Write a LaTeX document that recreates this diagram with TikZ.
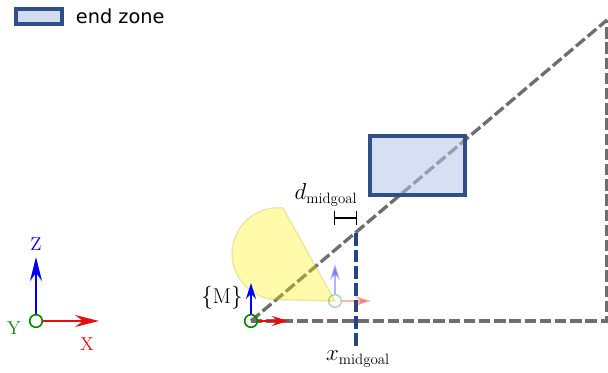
\documentclass[tikz,border=0pt]{standalone}
\usepackage{fontspec}
\newfontfamily\legendfont{DejaVu Sans}
\usetikzlibrary{arrows.meta, positioning}
\definecolor{zonefill}{RGB}{180,198,231}
\definecolor{zoneedge}{RGB}{47,79,134}
\definecolor{midblue}{RGB}{38,70,130}
\definecolor{guidegray}{RGB}{110,110,110}
\definecolor{axisred}{RGB}{225,15,15}
\definecolor{axisgreen}{RGB}{0,135,0}
\definecolor{axisblue}{RGB}{0,0,250}

\tikzset{
  zone/.style = {draw=zoneedge, line width=2.4pt, fill=zonefill, fill opacity=0.55, inner sep=0pt},
  guide/.style = {guidegray, line width=2.5pt, dash pattern=on 8.6pt off 2.8pt},
  midline/.style = {midblue, line width=2.5pt, dash pattern=on 9.5pt off 3pt},
  origin/.style = {circle, draw=axisgreen, line width=1.2pt, minimum size=9.5pt, inner sep=0pt},
  zaxis/.style = {axisblue, line width=1.5pt, -{Stealth[length=18pt, width=9pt, inset=6pt]}},
  xaxis/.style = {axisred, line width=1.5pt, -{Stealth[length=18pt, width=9pt, inset=6pt]}},
  zsmall/.style = {zaxis, -{Stealth[length=12pt, width=7.5pt, inset=4pt]}},
  xsmall/.style = {xaxis, -{Stealth[length=12pt, width=7.5pt, inset=4pt]}},
  axlabel/.style = {inner sep=0pt, font=\fontsize{14}{16}\selectfont},
  mathlabel/.style = {inner sep=0pt, font=\fontsize{16}{18}\selectfont}
}

\begin{document}
\begin{tikzpicture}[x=0.75pt, y=-0.75pt]
  \useasboundingbox (0,0) rectangle (608,373);

  % legend
  \node[zone, fill opacity=1, fill=zonefill!60, minimum width=34.5pt, minimum height=11.25pt] (key) at (39,16.5) {};
  \node[right=9pt of key, inner sep=0pt, font=\legendfont\fontsize{14.5}{16}\selectfont] (keytext) {end zone};

  % guide lines
  \coordinate (M) at (251,321);
  \coordinate (corner) at (607,321);
  \coordinate (far) at (607,20);
  \coordinate (midtop) at (356,233);
  \coordinate (midbot) at (356,346);
  \draw[guide] (M) -- (corner) -- (far);
  \draw[guide] (M) -- (far);
  \draw[midline] (midtop) -- (midbot);

  % end zone
  \node[zone, minimum width=71.25pt, minimum height=44.25pt] (endzone) at (417.5,165.5) {};

  % reach area
  \coordinate (P) at (335,301);
  \coordinate (reachtop) at (283,208);
  \fill[yellow, fill opacity=0.33, draw=yellow!70!black, draw opacity=0.3, line width=1pt]
    (P) -- (reachtop) arc[start angle=-83.8, end angle=-270, radius=46] -- cycle;

  % distance to goal line
  \coordinate (dimL) at (334,218);
  \coordinate (dimR) at (357,218);
  \draw[line width=1.1pt, {Bar[width=10pt]}-{Bar[width=10pt]}] (dimL) -- (dimR);
  \node[mathlabel] (dlabel) at (326,195) {$d_{\mathrm{midgoal}}$};
  \node[mathlabel] (xlabel) at (358,359) {$x_{\mathrm{midgoal}}$};

  % world frame
  \node[origin] (W) at (36,321) {};
  \coordinate (Wz) at (36,257);
  \coordinate (Wx) at (99,321);
  \draw[zaxis] (W) -- (Wz);
  \draw[xaxis] (W) -- (Wx);
  \node[axlabel, axisblue] (Zlab) at (36,244) {Z};
  \node[axlabel, axisred] (Xlab) at (87,344) {X};
  \node[axlabel, axisgreen] (Ylab) at (14,328) {Y};

  % frame {M}
  \node[origin] (Mo) at (M) {};
  \coordinate (Mz) at (251,283);
  \coordinate (Mx) at (288,321);
  \draw[zsmall] (Mo) -- (Mz);
  \draw[xsmall] (Mo) -- (Mx);
  \node[mathlabel] (Mlab) at (222,298) {$\{\mathrm{M}\}$};

  % shifted frame (faded)
  \begin{scope}[opacity=0.3]
    \node[origin] (Po) at (P) {};
    \coordinate (Pz) at (335,264);
    \coordinate (Px) at (371,301);
    \draw[zsmall] (Po) -- (Pz);
    \draw[xsmall] (Po) -- (Px);
  \end{scope}
\end{tikzpicture}
\end{document}
